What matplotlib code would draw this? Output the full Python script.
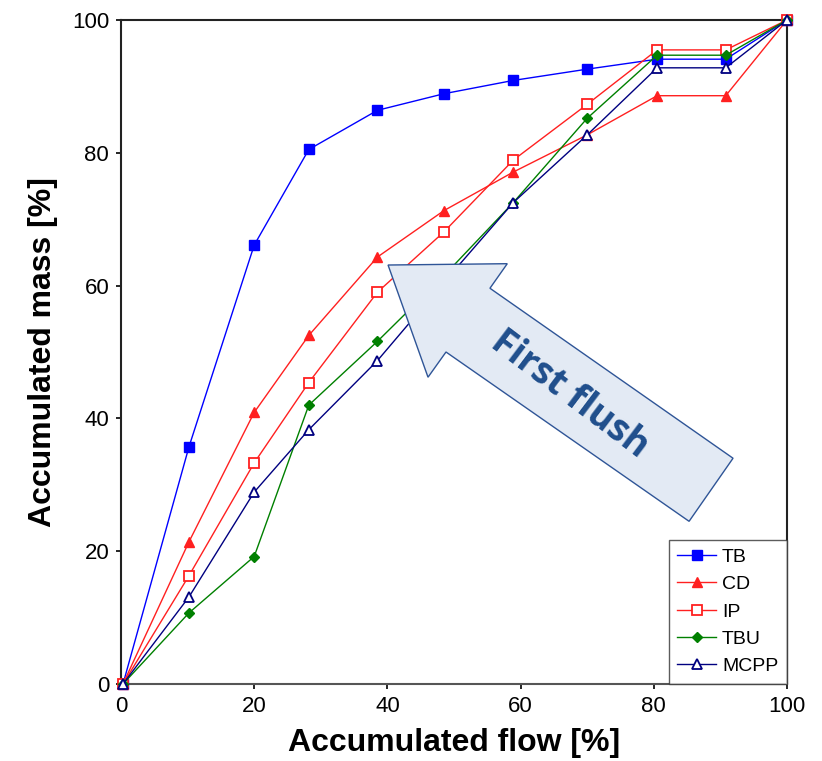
import matplotlib

matplotlib.use('Agg')
import numpy as np
import matplotlib.pyplot as plt
from matplotlib.patches import Polygon

plt.rcParams['font.family'] = ['Liberation Sans', 'DejaVu Sans']

# Accumulated flow [%] (shared x positions)
flow = [0.3, 10.2, 20.0, 28.2, 38.5, 48.5, 58.9, 70.0, 80.5, 90.8, 100.0]

# Accumulated mass [%] per substance
tb = [0, 35.7, 66.1, 80.5, 86.4, 88.9, 90.9, 92.6, 94.1, 94.1, 100]
cd = [0, 21.4, 40.9, 52.5, 64.3, 71.3, 77.1, 82.7, 88.6, 88.6, 100]
ip = [0, 16.3, 33.3, 45.4, 59.0, 68.1, 78.9, 87.3, 95.5, 95.5, 100]
tbu = [0, 10.7, 19.2, 42.0, 51.6, 61.5, 72.5, 85.2, 94.7, 94.7, 100]
mcpp = [0, 13.1, 28.9, 38.3, 48.7, 60.5, 72.5, 82.7, 92.8, 92.8, 100]

# Arrow outline (data coords)
arrow_x = [40.1, 58.0, 55.4, 91.9, 85.3, 48.8, 46.1]
arrow_y = [63.1, 63.3, 59.6, 34.0, 24.5, 50.0, 46.2]

fig = plt.figure(figsize=(8.22, 7.61), dpi=100)
ax = fig.add_axes([0.1472, 0.1012, 0.8102, 0.8725])

ax.plot(flow, tb, color='#0000FF', lw=1, marker='s', ms=7, label='TB', clip_on=False, zorder=3)
ax.plot(flow, cd, color='#FF2020', lw=1, marker='^', ms=7, label='CD', clip_on=False, zorder=3)
ax.plot(flow, ip, color='#FF2020', lw=1, marker='s', ms=7, mfc='white', mew=1.3,
        label='IP', clip_on=False, zorder=3)
ax.plot(flow, tbu, color='#008000', lw=1, marker='D', ms=5.5, label='TBU', clip_on=False, zorder=3)
ax.plot(flow, mcpp, color='#000080', lw=1, marker='^', ms=7, mfc='white', mew=1.3,
        label='MCPP', clip_on=False, zorder=3)

# "First flush" arrow
arrow = Polygon(np.column_stack([arrow_x, arrow_y]), closed=True, facecolor='#E3EAF4',
                edgecolor='#2F5597', lw=1, zorder=5, clip_on=False)
ax.add_patch(arrow)
ax.text(67.4, 43.6, 'First flush', rotation=-37, rotation_mode='anchor', ha='center', va='center',
        fontsize=27, fontweight='bold', color='#1F4E8C', family=['Open Sans', 'DejaVu Sans'], zorder=6)

ax.set_xlim(0, 100)
ax.set_ylim(0, 100)
ax.set_xticks(np.arange(0, 101, 20))
ax.set_yticks(np.arange(0, 101, 20))
ax.tick_params(labelsize=16, direction='out', length=3.5, width=1.2, pad=5)
for s in ax.spines.values():
    s.set_linewidth(1.5)
    s.set_color('#222222')
ax.spines['bottom'].set_color('#555555')

ax.set_xlabel('Accumulated flow [%]', fontsize=23, fontweight='bold', labelpad=8)
ax.set_ylabel('Accumulated mass [%]', fontsize=23, fontweight='bold', labelpad=10)

leg = ax.legend(loc='lower right', fontsize=14, fancybox=False, borderaxespad=0,
                edgecolor='#333333', handlelength=2.0, labelspacing=0.5, handletextpad=0.3,
                borderpad=0.45)
leg.get_frame().set_linewidth(1)
leg.set_zorder(7)

plt.savefig('out.png', dpi=100)
